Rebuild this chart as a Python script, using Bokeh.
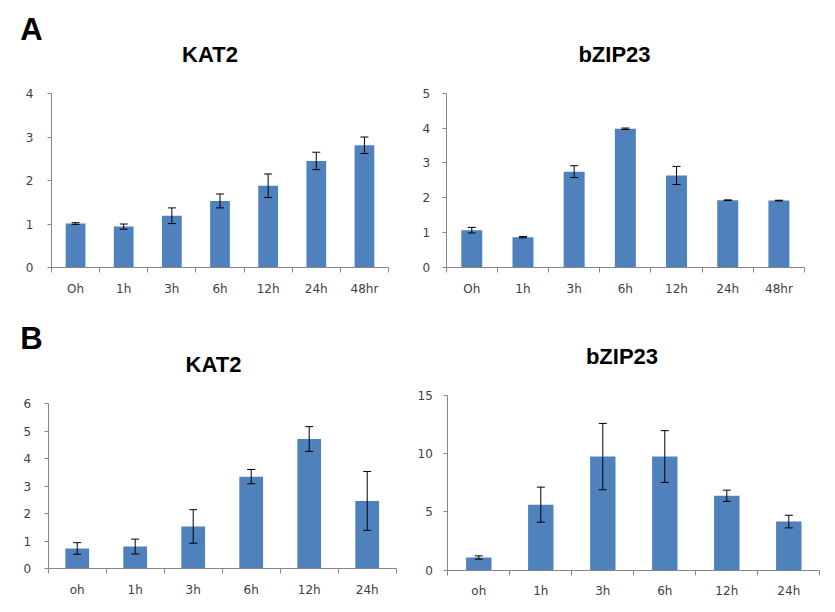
from bokeh.plotting import figure
from bokeh.models import Range1d, FixedTicker, Whisker, TeeHead, ColumnDataSource, Label
from bokeh.layouts import column, row
from bokeh.embed import file_html
from bokeh.resources import INLINE

# ---- data ----
times_a = ["Oh", "1h", "3h", "6h", "12h", "24h", "48hr"]
kat2_a = [1.01, 0.94, 1.19, 1.53, 1.88, 2.45, 2.81]
kat2_a_err = [0.02, 0.06, 0.18, 0.16, 0.27, 0.20, 0.19]
bzip23_a = [1.07, 0.87, 2.75, 3.98, 2.64, 1.93, 1.92]
bzip23_a_err = [0.08, 0.02, 0.17, 0.02, 0.26, 0.01, 0.01]

times_b = ["oh", "1h", "3h", "6h", "12h", "24h"]
kat2_b = [0.74, 0.81, 1.54, 3.35, 4.72, 2.47]
kat2_b_err = [0.21, 0.27, 0.61, 0.26, 0.45, 1.07]
bzip23_b = [1.09, 5.62, 9.74, 9.74, 6.38, 4.17]
bzip23_b_err = [0.14, 1.50, 2.84, 2.22, 0.48, 0.54]

y_ticks_a_kat2 = [0, 1, 2, 3, 4]
y_ticks_a_bzip = [0, 1, 2, 3, 4, 5]
y_ticks_b_kat2 = [0, 1, 2, 3, 4, 5, 6]
y_ticks_b_bzip = [0, 5, 10, 15]

BAR = "#4F81BD"
AXIS = "#868686"
TICK_TXT = "#404040"
TICK_FONT = "DejaVu Sans"
TITLE_FONT = "Liberation Sans"


def panel(cats, vals, errs, yticks, width, height, frame_px, title, title_pos,
          letter=None, letter_pos=None, ystandoff=12, xstandoff=9):
    """frame_px = (left, right, top, bottom) pixel position of the plotting area
    inside the figure; the figure's whole canvas is the frame, axes are fixed."""
    n = len(cats)
    ymax = yticks[-1]
    L, R, T, B = frame_px
    cpx = (R - L) / n               # pixels per category
    upx = (B - T) / ymax            # pixels per value unit
    x_range = Range1d(-L / cpx, (width - L) / cpx)
    y_range = Range1d(-(height - B) / upx, ymax + T / upx)

    xs = [i + 0.5 for i in range(n)]
    src = ColumnDataSource(dict(
        x=xs, top=vals,
        upper=[v + e for v, e in zip(vals, errs)],
        lower=[v - e for v, e in zip(vals, errs)],
    ))
    p = figure(width=width, height=height, x_range=x_range, y_range=y_range,
               output_backend="svg", toolbar_location=None,
               min_border=0, min_border_left=0, min_border_right=0,
               min_border_top=0, min_border_bottom=0,
               background_fill_color="white", border_fill_color="white")
    p.grid.visible = False
    p.outline_line_color = None

    p.vbar(x="x", top="top", bottom=0, width=0.41, source=src,
           fill_color=BAR, line_color=None)
    w = Whisker(source=src, base="x", upper="upper", lower="lower",
                line_color="black", line_width=1, level="annotation",
                upper_head=TeeHead(size=8, line_color="black", line_width=1),
                lower_head=TeeHead(size=8, line_color="black", line_width=1))
    p.add_layout(w)

    xa = p.xaxis[0]
    xa.fixed_location = 0
    xa.bounds = (0, n)
    xa.ticker = FixedTicker(ticks=xs, minor_ticks=list(range(n + 1)))
    xa.major_label_overrides = {x: c for x, c in zip(xs, cats)}
    xa.axis_line_color = AXIS
    xa.major_tick_out = 0
    xa.major_tick_in = 0
    xa.minor_tick_out = 5
    xa.minor_tick_in = 0
    xa.minor_tick_line_color = AXIS
    xa.major_label_standoff = xstandoff
    xa.major_label_text_font = TICK_FONT
    xa.major_label_text_font_size = "12px"
    xa.major_label_text_color = TICK_TXT

    ya = p.yaxis[0]
    ya.fixed_location = 0
    ya.bounds = (0, ymax)
    ya.ticker = FixedTicker(ticks=yticks)
    ya.axis_line_color = AXIS
    ya.major_tick_line_color = AXIS
    ya.major_tick_out = 4
    ya.major_tick_in = 0
    ya.minor_tick_line_color = None
    ya.major_label_standoff = ystandoff
    ya.major_label_text_font = TICK_FONT
    ya.major_label_text_font_size = "12px"
    ya.major_label_text_color = TICK_TXT

    p.add_layout(Label(x=title_pos[0], y=height - title_pos[1],
                       x_units="screen", y_units="screen", text=title,
                       text_align="center", text_baseline="middle",
                       text_font=TITLE_FONT, text_font_style="bold",
                       text_font_size="22px", text_color="black"))
    if letter:
        p.add_layout(Label(x=letter_pos[0], y=height - letter_pos[1],
                           x_units="screen", y_units="screen", text=letter,
                           text_align="center", text_baseline="middle",
                           text_font=TITLE_FONT, text_font_style="bold",
                           text_font_size="31px", text_color="black"))
    return p


p1 = panel(times_a, kat2_a, kat2_a_err, y_ticks_a_kat2, 415, 305,
           (51, 388, 93, 267), "KAT2", (209.5, 53.5), "A", (31, 29), ystandoff=14)
p2 = panel(times_a, bzip23_a, bzip23_a_err, y_ticks_a_bzip, 418, 305,
           (30.7, 389, 92.7, 267), "bZIP23", (199, 54), ystandoff=12)
p3 = panel(times_b, kat2_b, kat2_b_err, y_ticks_b_kat2, 415, 305,
           (47.7, 395.7, 98.3, 263.3), "KAT2", (213, 58.5), "B", (31, 33), ystandoff=13)
p4 = panel(times_b, bzip23_b, bzip23_b_err, y_ticks_b_bzip, 418, 305,
           (32.3, 404.3, 89.7, 264.7), "bZIP23", (206.5, 51), ystandoff=11)

layout = column(row(p1, p2), row(p3, p4))
open("out.html", "w").write(file_html(layout, INLINE))
